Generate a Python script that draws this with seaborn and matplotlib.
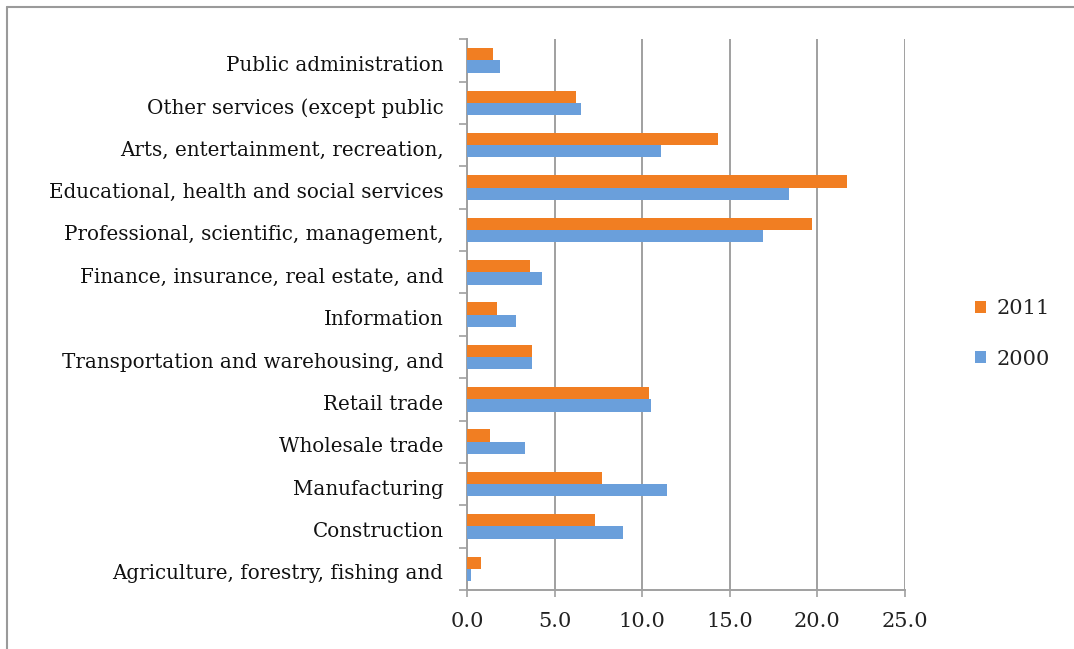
import pandas as pd
import seaborn as sns
import matplotlib.pyplot as plt
from matplotlib.lines import Line2D
from matplotlib.ticker import FixedLocator
from matplotlib.transforms import ScaledTranslation

# Dados (percentual por setor)
setores = ['Public administration', 'Other services (except public',
           'Arts, entertainment, recreation,', 'Educational, health and social services',
           'Professional, scientific, management,', 'Finance, insurance, real estate, and',
           'Information', 'Transportation and warehousing, and', 'Retail trade',
           'Wholesale trade', 'Manufacturing', 'Construction',
           'Agriculture, forestry, fishing and']
valores_2011 = [1.5, 6.2, 14.3, 21.7, 19.7, 3.6, 1.7, 3.7, 10.4, 1.3, 7.7, 7.3, 0.8]
valores_2000 = [1.9, 6.5, 11.1, 18.4, 16.9, 4.3, 2.8, 3.7, 10.5, 3.3, 11.4, 8.9, 0.25]
anos = ['2011', '2000']

df = pd.DataFrame({
    'setor': setores * 2,
    'valor': valores_2011 + valores_2000,
    'ano': ['2011'] * len(setores) + ['2000'] * len(setores),
})

sns.set_style('white')
plt.rcParams['font.family'] = ['DejaVu Serif', 'Liberation Serif']

fig = plt.figure(figsize=(10.74, 6.49), dpi=100, facecolor='white')
ax = fig.add_axes([467 / 1074, 1 - 590 / 649, (905 - 467) / 1074, (590 - 39.3) / 649])

sns.barplot(data=df, y='setor', x='valor', hue='ano', hue_order=anos, order=setores,
            palette={'2011': '#F17E22', '2000': '#6A9FDB'}, saturation=1, width=0.58,
            orient='h', ax=ax, zorder=3, linewidth=0)

ax.set_xlim(0, 25)
ax.set_ylim(len(setores) - 0.5, -0.5)
ax.set_xticks([0, 5, 10, 15, 20, 25])
ax.set_xticklabels(['0.0', '5.0', '10.0', '15.0', '20.0', '25.0'], fontsize=15, color='#222222')
ax.set_yticklabels(setores, fontsize=14.3, color='#111111')
ax.set_xlabel('')
ax.set_ylabel('')

# grade vertical cinza
ax.grid(axis='x', color='#A0A0A0', linewidth=1.4, zorder=0)
ax.grid(axis='y', visible=False)

for lado in ['top', 'right']:
    ax.spines[lado].set_visible(False)
for lado in ['left', 'bottom']:
    ax.spines[lado].set_color('#A0A0A0')
    ax.spines[lado].set_linewidth(1.4)

# ticks do eixo y nas divisas das categorias
ax.yaxis.set_minor_locator(FixedLocator([i - 0.5 for i in range(len(setores) + 1)]))
ax.tick_params(axis='y', which='major', length=0, pad=17)
ax.tick_params(axis='y', which='minor', length=6, width=1.2, color='#A0A0A0', left=True)
ax.tick_params(axis='x', which='major', length=5, width=1.2, color='#A0A0A0', bottom=True, pad=11)

# rótulos um pouco abaixo do centro da categoria, como no original
desloca = ScaledTranslation(0, -3 / 100, fig.dpi_scale_trans)
for rotulo in ax.get_yticklabels():
    rotulo.set_transform(rotulo.get_transform() + desloca)

leg = ax.legend(loc='center left', bbox_to_anchor=(1.117, 0.465), frameon=False,
                fontsize=15, handlelength=0.55, handleheight=0.55, labelspacing=1.5,
                handletextpad=0.5)
for t in leg.get_texts():
    t.set_color('#222222')

# moldura externa: só as bordas de cima e da esquerda aparecem
fig.lines.append(Line2D([6.5 / 1074, 6.5 / 1074], [0, 1 - 7 / 649], transform=fig.transFigure,
                        color='#9A9A9A', linewidth=1.5))
fig.lines.append(Line2D([6.5 / 1074, 1], [1 - 7 / 649, 1 - 7 / 649], transform=fig.transFigure,
                        color='#9A9A9A', linewidth=1.5))

plt.savefig('out.png', dpi=100, facecolor='white')
plt.close()
